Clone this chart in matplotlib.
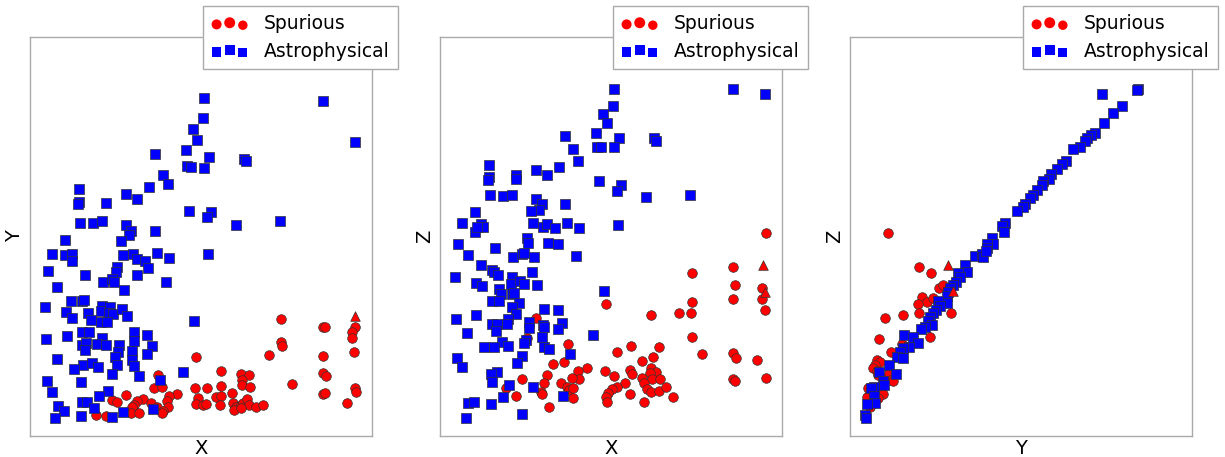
import numpy as np
import matplotlib
matplotlib.use('Agg')
import matplotlib.pyplot as plt
from matplotlib.legend_handler import HandlerPathCollection

# panel 1: X vs Y
xy_spur_x = [251, 293, 295, 325, 322, 322, 166, 239, 251, 252, 293, 324, 293, 296, 262, 325, 326, 293, 295, 317,
             191, 211, 219, 212, 212, 220, 128, 124, 132, 165, 177, 191, 202, 186, 191, 147, 139, 137, 138, 96,
             82, 87, 113, 107, 104, 102, 101, 109, 121, 127, 133, 132, 168, 166, 173, 176, 190, 203, 206, 211,
             213, 217, 219, 226, 233, 204, 211, 66, 76]
xy_spur_y = [117, 109, 109, 109, 104, 98, 79, 81, 94, 90, 80, 84, 63, 60, 52, 48, 44, 42, 43, 33,
             65, 62, 61, 56, 51, 49, 61, 48, 49, 48, 48, 50, 43, 39, 40, 42, 40, 35, 29, 41,
             36, 34, 37, 35, 31, 29, 23, 23, 33, 29, 25, 23, 38, 32, 31, 32, 31, 33, 29, 31,
             33, 37, 31, 29, 31, 26, 28, 21, 20]
xy_astro_x = [174, 293, 325, 173, 163, 167, 125, 156, 179, 214, 216, 157, 161, 174, 133, 138, 119, 49, 96, 107,
              49, 48, 76, 159, 181, 177, 50, 63, 72, 96, 101, 99, 91, 125, 206, 250, 35,
              22, 35, 42, 42, 93, 103, 107, 115, 118, 127, 139, 178, 18, 55, 87, 86, 107, 73, 82, 84,
              27, 136, 94, 41, 52, 54, 15, 36, 42, 58, 61, 72, 71, 80, 79, 83, 92, 97, 71, 77,
              164, 52, 59, 37, 16, 52, 56, 55, 72, 67, 76, 89, 88, 104, 104, 117, 122, 117, 102, 85,
              87, 27, 53, 62, 68, 102, 104, 44, 82, 109, 153, 130, 17, 22, 51, 78, 69, 52, 57, 64,
              28, 34, 25, 51, 82, 93, 123]
xy_astro_y = [338, 335, 294, 318, 307, 296, 282, 286, 279, 277, 275, 270, 269, 268, 261, 252, 249, 247, 242, 237,
              234, 232, 233, 225, 224, 219, 213, 213, 215, 211, 205, 201, 195, 205, 211, 215, 196,
              182, 181, 182, 175, 181, 182, 177, 175, 168, 183, 178, 182, 165, 161, 169, 164, 161, 154, 157, 154,
              149, 154, 146, 135, 135, 136, 129, 124, 118, 123, 116, 130, 125, 129, 123, 122, 127, 120, 114, 114,
              115, 104, 104, 100, 97, 91, 93, 86, 98, 92, 91, 91, 84, 104, 95, 101, 90, 82, 85, 79,
              71, 77, 71, 73, 69, 76, 70, 67, 62, 60, 64, 56, 55, 44, 54, 45, 40, 34, 34, 28,
              30, 25, 18, 20, 19, 24, 27]
xy_odd_x = [325]
xy_odd_y = [120]

# panel 2: X vs Z
xz_spur_x = [326, 293, 252, 295, 322, 322, 325, 293, 166, 252, 239, 251, 211, 96, 252, 87, 128, 177, 191, 219,
             262, 293, 296, 317, 213, 202, 124, 113, 147, 138, 139, 132, 107, 104, 82, 165, 174, 190, 192, 185,
             211, 216, 210, 212, 220, 202, 204, 207, 177, 172, 168, 166, 167, 190, 211, 219, 226, 233, 204, 293,
             295, 326, 121, 127, 129, 133, 133, 101, 102, 66, 76, 109]
xz_spur_z = [203, 169, 163, 151, 148, 137, 126, 137, 132, 134, 123, 123, 121, 118, 99, 98, 92, 84, 90, 89,
             82, 83, 78, 76, 79, 75, 74, 72, 68, 65, 57, 58, 61, 53, 57, 65, 60, 66, 62, 53,
             68, 64, 63, 57, 57, 58, 53, 47, 49, 47, 43, 39, 34, 42, 44, 45, 49, 39, 34, 57,
             55, 58, 53, 49, 46, 48, 38, 44, 42, 48, 40, 29]
xz_astro_x = [174, 293, 325, 173, 163, 167, 125, 156, 179, 214, 216, 157, 161, 174, 133, 138, 119, 49, 96, 107,
              49, 48, 76, 76, 159, 181, 177, 50, 63, 72, 96, 102, 99, 91, 125, 206, 250, 35, 22, 41,
              43, 35, 37, 93, 103, 107, 115, 127, 139, 178, 18, 28, 55, 87, 88, 108, 118, 73, 82, 84,
              94, 136, 41, 52, 54, 58, 15, 36, 42, 72, 71, 80, 84, 92, 97, 59, 61, 52, 59, 72,
              74, 79, 72, 76, 36, 16, 104, 118, 68, 67, 89, 89, 52, 57, 56, 103, 104, 122, 118, 27,
              164, 153, 102, 104, 109, 86, 84, 62, 68, 44, 54, 130, 82, 77, 17, 22, 57, 51, 52, 69,
              63, 93, 123, 28, 34, 51, 26, 82]
xz_astro_z = [347, 347, 342, 330, 322, 313, 300, 303, 298, 298, 295, 289, 289, 289, 287, 275, 269, 271, 266, 261,
              259, 256, 261, 257, 255, 251, 245, 241, 240, 241, 237, 232, 226, 225, 232, 239, 241, 224, 213, 212,
              209, 204, 209, 213, 209, 212, 208, 213, 208, 211, 192, 181, 188, 198, 193, 193, 192, 179, 182, 183,
              179, 180, 171, 166, 164, 161, 159, 153, 150, 159, 152, 155, 152, 164, 151, 147, 142, 135, 135, 142,
              143, 133, 129, 122, 121, 117, 127, 126, 117, 112, 114, 108, 112, 112, 105, 111, 109, 113, 107, 103,
              145, 101, 99, 89, 87, 96, 93, 94, 90, 89, 89, 82, 80, 73, 78, 69, 64, 62, 54, 51,
              39, 49, 40, 33, 34, 32, 18, 22]
xz_odd_x = [323, 325]
xz_odd_z = [171, 144]

# panel 3: Y vs Z
yz_spur_y = [38, 69, 81, 89, 93, 72, 77, 68, 83, 69, 101, 35, 53, 80, 29, 41, 52, 27, 30, 25,
             23, 27, 28, 36, 39, 41, 43, 18, 20, 17, 27, 33, 23, 28, 20]
yz_spur_z = [203, 169, 163, 148, 151, 139, 134, 132, 138, 123, 123, 118, 121, 99, 97, 84, 92, 76, 74, 71,
             68, 65, 61, 59, 63, 56, 55, 48, 43, 39, 44, 42, 33, 38, 29]
yz_astro_y = [252, 288, 287, 272, 263, 254, 245, 241, 237, 235, 230, 223, 216, 212, 207, 201, 199, 193, 192, 187,
              183, 180, 175, 173, 167, 155, 152, 154, 142, 143, 137, 137, 125, 132, 133, 136, 115, 117, 108, 110,
              106, 103, 100, 98, 97, 97, 88, 90, 86, 83, 80, 78, 82, 75, 71, 54, 63, 68, 59, 53,
              50, 47, 53, 39, 29, 46, 33, 34, 24, 21, 24, 25, 17, 15, 16]
yz_astro_z = [342, 347, 346, 330, 323, 313, 303, 301, 298, 295, 289, 287, 275, 272, 267, 262, 257, 255, 251, 246,
              241, 238, 232, 229, 225, 213, 210, 204, 198, 192, 192, 188, 180, 182, 179, 185, 171, 164, 163, 159,
              154, 151, 148, 144, 140, 133, 135, 130, 126, 123, 119, 115, 111, 109, 107, 101, 99, 93, 89, 88,
              84, 79, 78, 71, 64, 62, 55, 51, 49, 48, 40, 33, 32, 21, 18]
yz_odd_y = [98, 103]
yz_odd_z = [171, 145]

panels = [
    (xy_spur_x, xy_spur_y, xy_astro_x, xy_astro_y, xy_odd_x, xy_odd_y, 'X', 'Y'),
    (xz_spur_x, xz_spur_z, xz_astro_x, xz_astro_z, xz_odd_x, xz_odd_z, 'X', 'Z'),
    (yz_spur_y, yz_spur_z, yz_astro_y, yz_astro_z, yz_odd_y, yz_odd_z, 'Y', 'Z'),
]

W, H = 1225, 457
fig = plt.figure(figsize=(W / 100, H / 100), dpi=100)
lefts = [30, 440, 850]

for left, (sx, sy, ax_, ay_, ox, oy, xl, yl) in zip(lefts, panels):
    ax = fig.add_axes([left / W, 21 / H, 342 / W, 399 / H])
    red = ax.scatter(sx, sy, s=48, c='red', marker='o', edgecolors='#333333', linewidths=0.5, zorder=2)
    blue = ax.scatter(ax_, ay_, s=44, c='blue', marker='s', edgecolors='#333333', linewidths=0.5, zorder=3)
    ax.scatter(ox, oy, s=48, c='red', marker='^', edgecolors='#333333', linewidths=0.5, zorder=4)
    ax.set_xlim(0, 342)
    ax.set_ylim(0, 399)
    ax.set_xticks([])
    ax.set_yticks([])
    for sp in ax.spines.values():
        sp.set_color('#aaaaaa')
        sp.set_linewidth(1.0)
    ax.set_xlabel(xl, fontsize=14, labelpad=2)
    ax.set_ylabel(yl, fontsize=14, labelpad=4)
    # three legend points of unequal size, like the old scatter legend
    leg = ax.legend([red, blue], ['Spurious', 'Astrophysical'], loc='upper right',
                    bbox_to_anchor=(1.075, 1.078), borderaxespad=0, scatterpoints=3,
                    scatteryoffsets=[0.375, 0.5, 0.3125], fontsize=13.5, fancybox=False,
                    framealpha=1, edgecolor='#aaaaaa', handlelength=2.0, handletextpad=0.8,
                    borderpad=0.45, labelspacing=0.45,
                    handler_map={red: HandlerPathCollection(sizes=[52, 62, 46]),
                                 blue: HandlerPathCollection(sizes=[46, 54, 40])})
    for h in leg.legend_handles:
        h.set_linewidth(0)

plt.savefig('out.png', dpi=100)
